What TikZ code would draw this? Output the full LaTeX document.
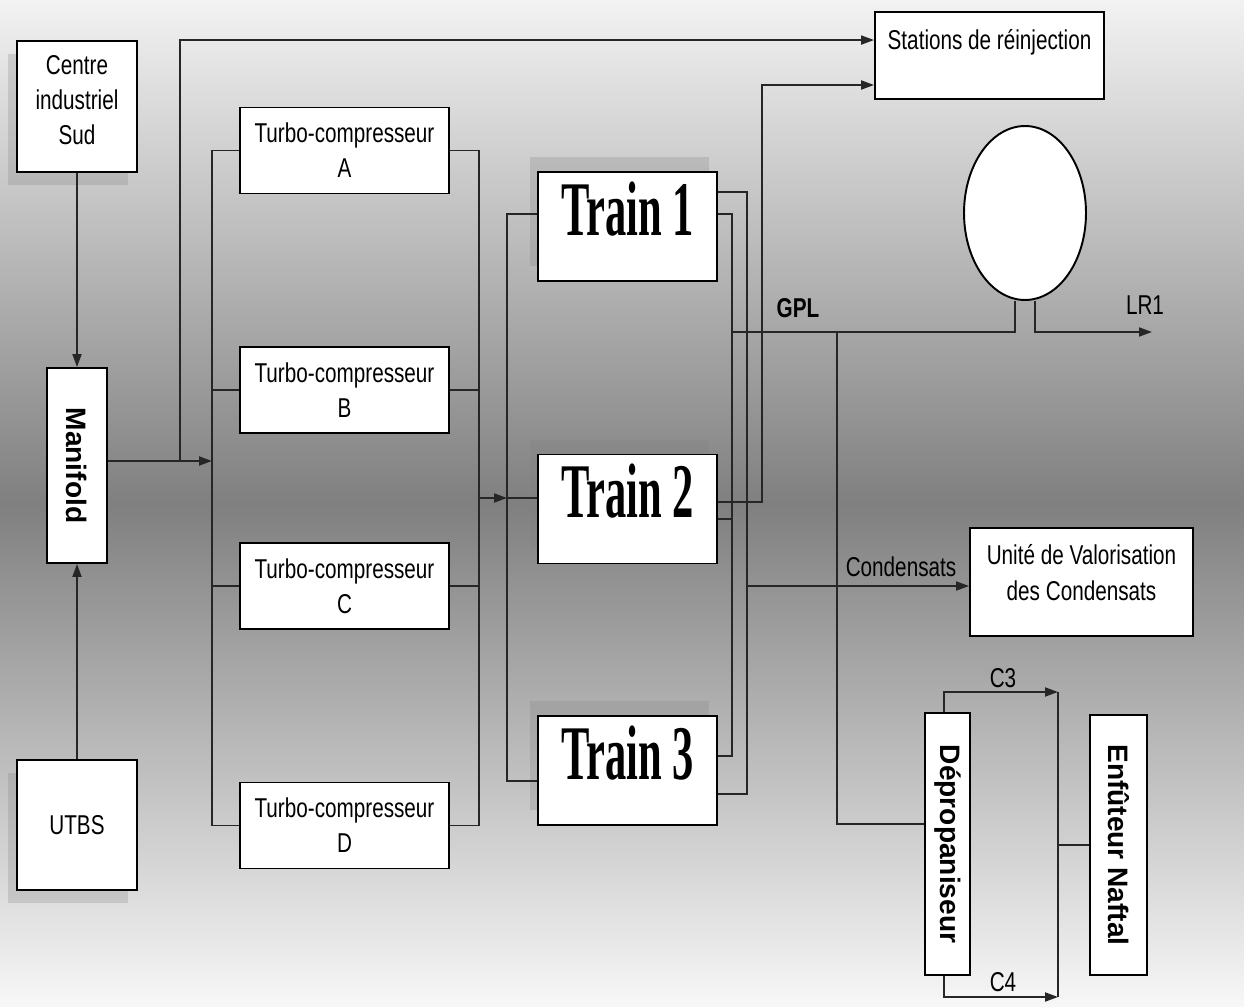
\documentclass[tikz,border=0pt]{standalone}
\usepackage{fontspec}
\setmainfont{Liberation Sans}[FakeStretch=0.76]
\newfontfamily\trainfont{Liberation Serif}[FakeStretch=0.55]
\newfontfamily\vertfont{Liberation Sans}
\usetikzlibrary{arrows.meta,positioning,calc,shapes.geometric,shadows}

\begin{document}
\begin{tikzpicture}[x=0.02cm, y=-0.02cm, line width=1.1pt,
  box/.style={draw, fill=white, align=center, inner sep=2pt, font=\fontsize{15.5}{20}\selectfont},
  sbox/.style={box, minimum width=2.4cm, drop shadow={shadow xshift=-0.18cm, shadow yshift=-0.26cm, opacity=0.25}},
  tbox/.style={box, minimum width=4.18cm, minimum height=1.72cm},
  train/.style={draw, fill=white, inner xsep=2pt, inner ysep=0pt, minimum width=3.58cm, text height=1.26cm, text depth=0.92cm,
    font=\trainfont\bfseries\fontsize{44}{48}\selectfont, drop shadow={shadow xshift=-0.16cm, shadow yshift=0.3cm, opacity=0.25}},
  vbox/.style={draw, fill=white, inner sep=0pt, font=\vertfont\bfseries\fontsize{16}{19}\selectfont},
  lbl/.style={inner sep=1pt, font=\fontsize{15.5}{20}\selectfont},
  pipe/.style={draw=black!85},
  arr/.style={pipe, -{Triangle[length=2.6mm, width=1.8mm]}},
]
  \useasboundingbox (0,0) rectangle (1244,1007);
  \shade[top color=black!5, bottom color=black!3, middle color=black!50] (0,0) rectangle (1244,1007);

  % sources and manifold
  \node[sbox, inner ysep=0pt, text height=2.08cm, text depth=0.54cm] (centre) at (77,106.5) {Centre\\industriel\\Sud};
  \node[vbox, minimum width=1.2cm, minimum height=3.9cm] (manifold) at (77,465.5) {\rotatebox{-90}{Manifold}};
  \node[sbox, minimum height=2.6cm] (utbs) at (77,825) {UTBS};

  % compression
  \node[tbox] (turboA) at (344.5,150.5) {Turbo-compresseur\\A};
  \node[tbox] (turboB) at (344.5,390) {Turbo-compresseur\\B};
  \node[tbox] (turboC) at (344.5,586) {Turbo-compresseur\\C};
  \node[tbox] (turboD) at (344.5,825.5) {Turbo-compresseur\\D};

  % trains
  \node[train] (train1) at (627.5,226.5) {Train 1};
  \node[train] (train2) at (627.5,509) {Train 2};
  \node[train] (train3) at (627.5,770.5) {Train 3};

  % products
  \node[box, inner ysep=0pt, minimum width=4.58cm, text height=0.76cm, text depth=0.98cm] (stations) at (989.5,55.5) {Stations de réinjection};
  \node[draw, ellipse, fill=white, minimum width=2.44cm, minimum height=3.48cm] (tank) at (1025,213) {};
  \node[box, inner ysep=0pt, minimum width=4.46cm, text height=1.44cm, text depth=0.72cm] (uvc) at (1081.5,582) {Unité de Valorisation\\des Condensats};
  \node[vbox, minimum width=0.9cm, minimum height=5.24cm] (deprop) at (947.5,844) {\rotatebox{-90}{Dépropaniseur}};
  \node[vbox, minimum width=1.14cm, minimum height=5.2cm] (enfut) at (1118.5,845) {\rotatebox{-90}{Enfûteur Naftal}};

  \node[lbl, font=\bfseries\fontsize{15.5}{20}\selectfont] (lgpl) at (798,308) {GPL};
  \node[lbl] (llr1) at (1145,305) {LR1};
  \node[lbl] (lcond) at (901,567) {Condensats};
  \node[lbl] (lc3) at (1003,678) {C3};
  \node[lbl] (lc4) at (1003,982) {C4};

  \coordinate (split) at (180,461);
  \coordinate (inL) at (212,461);
  \coordinate (outT) at (479,498);
  \coordinate (inT) at (507,498);
  \coordinate (gpl) at (732,332);
  \coordinate (cond) at (747,586);
  \coordinate (rein) at (762,85);
  \coordinate (gtap) at (837,332);
  \coordinate (lr1) at (1152,332);
  \coordinate (c3) at (1058,692);
  \coordinate (c4) at (1058,997);
  \coordinate (neckL) at ([xshift=-0.2cm]tank.south);
  \coordinate (neckR) at ([xshift=0.2cm]tank.south);

  \draw[arr] (centre) -- (manifold);
  \draw[arr] (utbs) -- (manifold);
  \draw[arr] (manifold.east |- inL) -- (inL);
  \draw[arr] (split) |- ($(stations.north west)+(0,29)$);

  \draw[pipe] (turboA.west) -| (inL) |- (turboD.west);
  \draw[pipe] (turboB.west) -- (turboB.west -| inL);
  \draw[pipe] (turboC.west) -- (turboC.west -| inL);
  \draw[pipe] (turboA.east) -| (outT) |- (turboD.east);
  \draw[pipe] (turboB.east) -- (turboB.east -| outT);
  \draw[pipe] (turboC.east) -- (turboC.east -| outT);
  \draw[arr] (outT) -- (inT);

  \draw[pipe] ($(train1.north west)+(0,43)$) -| (inT) |- ($(train3.north west)+(0,66)$);
  \draw[pipe] (inT) -- (inT -| train2.west);

  \draw[pipe] ($(train1.north east)+(0,43)$) -| (gpl) |- ($(train3.north east)+(0,41)$);
  \draw[pipe] ($(train2.north east)+(0,65)$) coordinate (t2g) -- (t2g -| gpl);
  \draw[pipe] ($(train1.north east)+(0,21)$) -| (cond) |- ($(train3.north east)+(0,79)$);
  \draw[arr] ($(train2.north east)+(0,48)$) -| (rein) -- (rein -| stations.west);

  \draw[pipe] (gpl) -| (neckL);
  \draw[arr] (neckR) |- (lr1);
  \draw[arr] (cond) -- (cond -| uvc.west);
  \draw[pipe] (gtap) |- ($(deprop.north west)+(0,112)$);
  \draw[arr] ($(deprop.north west)+(20,0)$) |- (c3);
  \draw[arr] ($(deprop.south west)+(20,0)$) |- (c4);
  \draw[pipe] (c3) -- (c4);
  \draw[pipe] (enfut.west -| c3) -- (enfut.west);
\end{tikzpicture}
\end{document}
